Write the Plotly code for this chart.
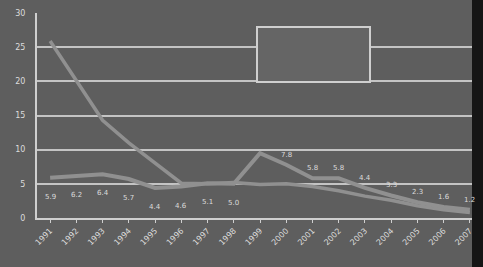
import plotly.graph_objects as go

years = [str(y) for y in range(1991, 2008)]
series_a = [25.9, 20.1, 14.3, 11.0, 8.0, 5.1, 5.0, 5.2, 4.9, 5.0, 4.6, 4.0, 3.2, 2.6, 1.8, 1.2, 0.8]
series_b = [5.9, 6.2, 6.4, 5.7, 4.4, 4.6, 5.1, 5.0, 9.5, 7.8, 5.8, 5.8, 4.4, 3.3, 2.3, 1.6, 1.2]
labels_b = ["5.9", "6.2", "6.4", "5.7", "4.4", "4.6", "5.1", "5.0", "",
            "7.8", "5.8", "5.8", "4.4", "3.3", "2.3", "1.6", "1.2"]
label_below = [True] * 8 + [False] * 9
y_ticks = [0, 5, 10, 15, 20, 25, 30]

bg = "#5e5e5e"
line_col = "#909090"
txt = "#dcdcdc"

fig = go.Figure()
fig.add_trace(go.Scatter(x=years, y=series_a, mode="lines",
                         line=dict(color=line_col, width=3.5), showlegend=False))
fig.add_trace(go.Scatter(x=years, y=series_b, mode="lines",
                         line=dict(color=line_col, width=4), showlegend=False))

for i, (val, lab, below) in enumerate(zip(series_b, labels_b, label_below)):
    if lab:
        fig.add_annotation(x=i, y=val, xref="x", yref="y", text=lab, showarrow=False,
                           yshift=-19 if below else 10,
                           font=dict(size=7, color=txt, family="DejaVu Sans"))

fig.update_layout(
    width=483, height=267,
    margin=dict(l=37, r=0, t=13, b=49),
    paper_bgcolor=bg, plot_bgcolor=bg,
    font=dict(family="DejaVu Sans", size=8, color=txt),
    xaxis=dict(type="category", range=[-0.5, 16.5], showgrid=False, automargin=False,
               tickangle=-45, tickfont=dict(size=8, color=txt),
               showline=True, linecolor="#cfcfcf", linewidth=2,
               ticks="outside", ticklen=3, tickcolor="#cfcfcf"),
    yaxis=dict(range=[0, 30], tickvals=y_ticks, showgrid=True, automargin=False,
               gridcolor="#c4c4c4", gridwidth=1.5, zeroline=False,
               showline=True, linecolor="#cfcfcf", linewidth=2,
               ticklabelstandoff=8,
               tickfont=dict(size=8, color=txt), ticks=""),
    shapes=[
        dict(type="rect", xref="paper", yref="paper",
             x0=(257 - 37) / 446, x1=(370 - 37) / 446,
             y0=(218 - 82) / 205, y1=(218 - 27) / 205,
             line=dict(color="#cfcfcf", width=2), fillcolor="#656565", layer="above"),
        dict(type="rect", xref="paper", yref="paper",
             x0=(472 - 37) / 446, x1=1.0, y0=-0.3, y1=1.1,
             line=dict(width=0), fillcolor="#151515", layer="above"),
    ],
)

fig.write_html(
    "out.html",
    config={"displayModeBar": False},
    post_script="document.body.style.margin='0';document.body.style.padding='0';"
                "document.body.style.background='#5e5e5e';",
)
